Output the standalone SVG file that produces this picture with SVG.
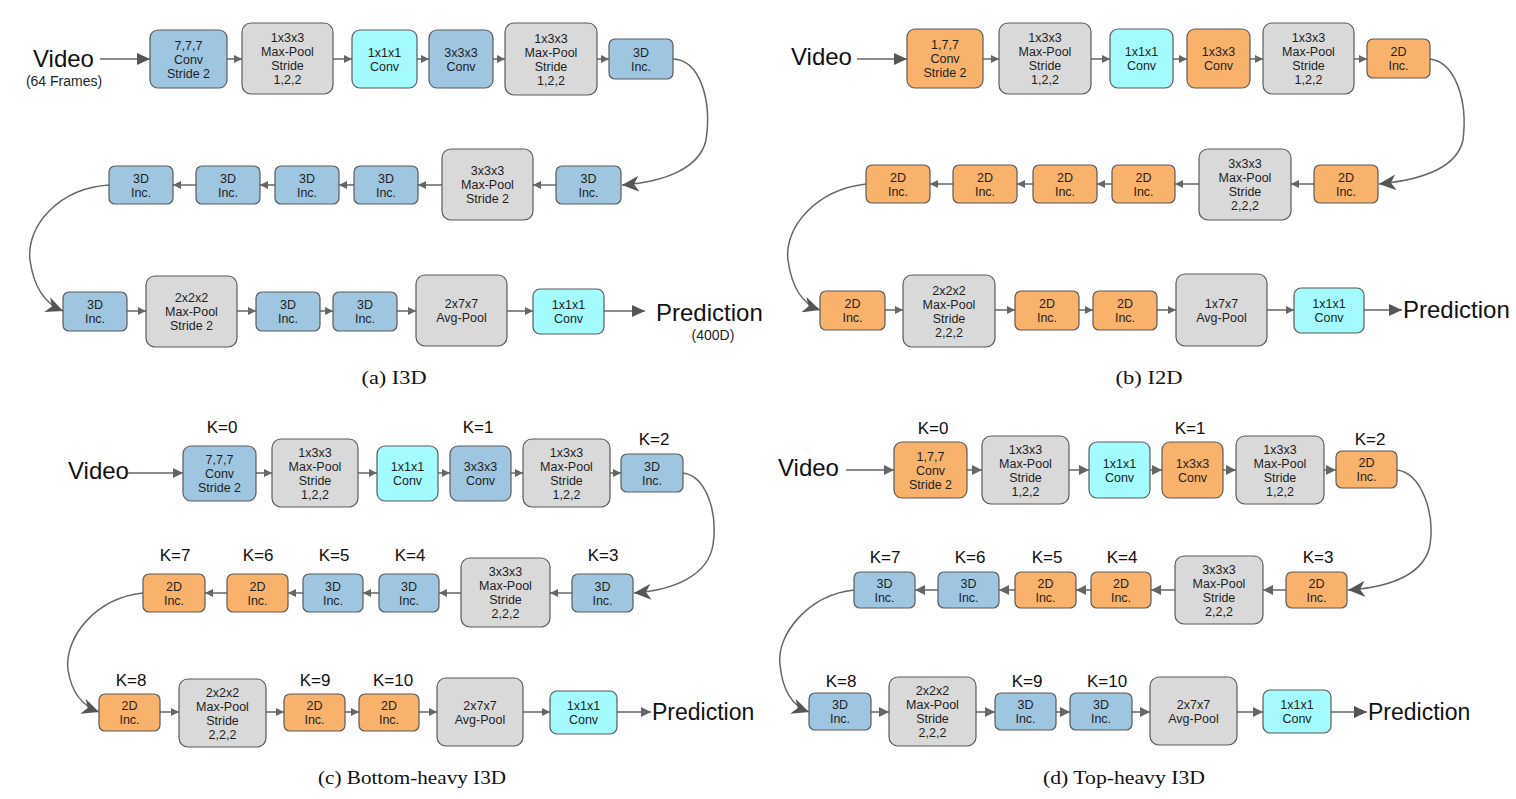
<svg xmlns="http://www.w3.org/2000/svg" width="1516" height="799" viewBox="0 0 1516 799">
<style>
rect{stroke:#5a5a5a;stroke-width:1.2}
.b{fill:#9fc6e1}.o{fill:#f8b26b}.g{fill:#d9d9d9}.c{fill:#a3fbfd}
text{font-family:"Liberation Sans",Arial,sans-serif;fill:#1e1e1e}
.n{font-size:12.5px;text-anchor:middle}
.k{font-size:17px;text-anchor:middle;fill:#111}
.v{font-size:24px;fill:#111}
.s{font-size:14px;text-anchor:middle}
.cap{font-family:"Liberation Serif","Times New Roman",serif;font-size:18px;text-anchor:middle;fill:#111}
.l{stroke:#666;stroke-width:1.5;fill:none}
</style>
<defs>
<marker id="sm" markerUnits="userSpaceOnUse" markerWidth="8" markerHeight="8" refX="8" refY="4" orient="auto"><path d="M0,0 L8,4 L0,8 z" fill="#666"/></marker>
<marker id="md" markerUnits="userSpaceOnUse" markerWidth="10" markerHeight="10" refX="10" refY="5" orient="auto"><path d="M0,0 L10,5 L0,10 z" fill="#666"/></marker>
<marker id="lg" markerUnits="userSpaceOnUse" markerWidth="13" markerHeight="12" refX="13" refY="6" orient="auto"><path d="M0,0 L13,6 L0,12 z" fill="#555"/></marker>
<marker id="cv" markerUnits="userSpaceOnUse" markerWidth="18" markerHeight="16" refX="17" refY="8" orient="auto"><path d="M0,0 L17,8 L0,16 L5,8 z" fill="#555"/></marker>
</defs>

<g id="connectors">
<!-- panel a -->
<path class="l" marker-end="url(#lg)" d="M100,59 H150"/>
<path class="l" marker-end="url(#sm)" d="M227,59 H242"/>
<path class="l" marker-end="url(#sm)" d="M333,59 H352"/>
<path class="l" marker-end="url(#sm)" d="M417,59 H429"/>
<path class="l" marker-end="url(#sm)" d="M493,59 H505"/>
<path class="l" marker-end="url(#sm)" d="M597,59 H609"/>
<path class="l" marker-end="url(#cv)" d="M673,59 C700,60 712,100 706,140 C700,168 665,182 622,185"/>
<path class="l" marker-end="url(#sm)" d="M556,185 H533"/>
<path class="l" marker-end="url(#sm)" d="M442,185 H418"/>
<path class="l" marker-end="url(#sm)" d="M354,185 H339"/>
<path class="l" marker-end="url(#sm)" d="M275,185 H260"/>
<path class="l" marker-end="url(#sm)" d="M196,185 H173"/>
<path class="l" marker-end="url(#cv)" d="M109,185 C60,188 26,225 30,260 C34,290 48,305 63,311"/>
<path class="l" marker-end="url(#sm)" d="M127,311 H146"/>
<path class="l" marker-end="url(#sm)" d="M237,311 H256"/>
<path class="l" marker-end="url(#sm)" d="M320,311 H333"/>
<path class="l" marker-end="url(#sm)" d="M397,311 H416"/>
<path class="l" marker-end="url(#sm)" d="M507,311 H533"/>
<path class="l" marker-end="url(#lg)" d="M604,311 H645"/>
<!-- panel b -->
<path class="l" marker-end="url(#lg)" d="M857,59 H907"/>
<path class="l" marker-end="url(#sm)" d="M983,59 H999"/>
<path class="l" marker-end="url(#sm)" d="M1091,59 H1110"/>
<path class="l" marker-end="url(#sm)" d="M1173,59 H1187"/>
<path class="l" marker-end="url(#sm)" d="M1250,59 H1263"/>
<path class="l" marker-end="url(#sm)" d="M1354,59 H1367"/>
<path class="l" marker-end="url(#cv)" d="M1430,59 C1455,62 1468,100 1463,140 C1457,168 1420,180 1379,184"/>
<path class="l" marker-end="url(#sm)" d="M1314,184 H1291"/>
<path class="l" marker-end="url(#sm)" d="M1199,184 H1175"/>
<path class="l" marker-end="url(#sm)" d="M1112,184 H1097"/>
<path class="l" marker-end="url(#sm)" d="M1033,184 H1017"/>
<path class="l" marker-end="url(#sm)" d="M953,184 H930"/>
<path class="l" marker-end="url(#cv)" d="M866,184 C815,190 784,228 788,260 C792,290 805,305 820,310"/>
<path class="l" marker-end="url(#sm)" d="M885,310 H903"/>
<path class="l" marker-end="url(#sm)" d="M995,310 H1015"/>
<path class="l" marker-end="url(#sm)" d="M1079,310 H1093"/>
<path class="l" marker-end="url(#sm)" d="M1157,310 H1176"/>
<path class="l" marker-end="url(#sm)" d="M1267,310 H1294"/>
<path class="l" marker-end="url(#lg)" d="M1364,310 H1402"/>
<!-- panel c -->
<path class="l" marker-end="url(#md)" d="M128,473 H183"/>
<path class="l" marker-end="url(#sm)" d="M256,473 H272"/>
<path class="l" marker-end="url(#sm)" d="M358,473 H377"/>
<path class="l" marker-end="url(#sm)" d="M438,473 H450"/>
<path class="l" marker-end="url(#sm)" d="M511,473 H523"/>
<path class="l" marker-end="url(#sm)" d="M610,473 H621"/>
<path class="l" marker-end="url(#cv)" d="M683,473 C706,476 718,512 713,545 C708,575 675,590 634,593"/>
<path class="l" marker-end="url(#sm)" d="M572,593 H550"/>
<path class="l" marker-end="url(#sm)" d="M461,593 H439"/>
<path class="l" marker-end="url(#sm)" d="M379,593 H363"/>
<path class="l" marker-end="url(#sm)" d="M303,593 H288"/>
<path class="l" marker-end="url(#sm)" d="M227,593 H205"/>
<path class="l" marker-end="url(#cv)" d="M143,593 C95,598 64,638 68,670 C72,695 85,707 99,712"/>
<path class="l" marker-end="url(#sm)" d="M160,712 H179"/>
<path class="l" marker-end="url(#sm)" d="M266,712 H284"/>
<path class="l" marker-end="url(#sm)" d="M345,712 H359"/>
<path class="l" marker-end="url(#sm)" d="M419,712 H437"/>
<path class="l" marker-end="url(#sm)" d="M523,712 H550"/>
<path class="l" marker-end="url(#md)" d="M617,712 H651"/>
<!-- panel d -->
<path class="l" marker-end="url(#md)" d="M846,470 H894"/>
<path class="l" marker-end="url(#md)" d="M967,470 H982"/>
<path class="l" marker-end="url(#md)" d="M1069,470 H1089"/>
<path class="l" marker-end="url(#md)" d="M1150,470 H1162"/>
<path class="l" marker-end="url(#md)" d="M1223,470 H1236"/>
<path class="l" marker-end="url(#md)" d="M1324,470 H1336"/>
<path class="l" marker-end="url(#cv)" d="M1397,470 C1421,473 1435,512 1430,545 C1425,572 1395,587 1348,590"/>
<path class="l" marker-end="url(#md)" d="M1286,590 H1263"/>
<path class="l" marker-end="url(#md)" d="M1175,590 H1151"/>
<path class="l" marker-end="url(#md)" d="M1091,590 H1076"/>
<path class="l" marker-end="url(#md)" d="M1015,590 H999"/>
<path class="l" marker-end="url(#md)" d="M938,590 H915"/>
<path class="l" marker-end="url(#cv)" d="M854,590 C808,595 776,635 780,665 C783,695 795,707 809,712"/>
<path class="l" marker-end="url(#md)" d="M871,712 H889"/>
<path class="l" marker-end="url(#md)" d="M976,712 H995"/>
<path class="l" marker-end="url(#md)" d="M1056,712 H1070"/>
<path class="l" marker-end="url(#md)" d="M1132,712 H1150"/>
<path class="l" marker-end="url(#md)" d="M1237,712 H1263"/>
<path class="l" marker-end="url(#lg)" d="M1331,712 H1367"/>
</g>

<!-- ===== Panel a ===== -->
<g id="a-video"><text class="v" x="33" y="67">Video</text><text class="s" x="64" y="86">(64 Frames)</text></g>
<g id="a1"><rect class="b" x="150" y="30" width="77" height="58" rx="8"/><text class="n" x="188.5" y="49.5">7,7,7</text><text class="n" x="188.5" y="63.5">Conv</text><text class="n" x="188.5" y="77.5">Stride 2</text></g>
<g id="a2"><rect class="g" x="242" y="23" width="91" height="71" rx="9"/><text class="n" x="287.5" y="42">1x3x3</text><text class="n" x="287.5" y="56">Max-Pool</text><text class="n" x="287.5" y="70">Stride</text><text class="n" x="287.5" y="84">1,2,2</text></g>
<g id="a3"><rect class="c" x="352" y="30" width="65" height="58" rx="8"/><text class="n" x="384.5" y="56.5">1x1x1</text><text class="n" x="384.5" y="70.5">Conv</text></g>
<g id="a4"><rect class="b" x="429" y="30" width="64" height="58" rx="8"/><text class="n" x="461" y="56.5">3x3x3</text><text class="n" x="461" y="70.5">Conv</text></g>
<g id="a5"><rect class="g" x="505" y="23" width="92" height="72" rx="9"/><text class="n" x="551" y="42.5">1x3x3</text><text class="n" x="551" y="56.5">Max-Pool</text><text class="n" x="551" y="70.5">Stride</text><text class="n" x="551" y="84.5">1,2,2</text></g>
<g id="a6"><rect class="b" x="609" y="39" width="64" height="40" rx="6"/><text class="n" x="641" y="56.5">3D</text><text class="n" x="641" y="70.5">Inc.</text></g>
<g id="a7"><rect class="b" x="556" y="166" width="65" height="38" rx="6"/><text class="n" x="588.5" y="182.5">3D</text><text class="n" x="588.5" y="196.5">Inc.</text></g>
<g id="a8"><rect class="g" x="442" y="149" width="91" height="71" rx="9"/><text class="n" x="487.5" y="175">3x3x3</text><text class="n" x="487.5" y="189">Max-Pool</text><text class="n" x="487.5" y="203">Stride 2</text></g>
<g id="a9"><rect class="b" x="354" y="166" width="64" height="38" rx="6"/><text class="n" x="386" y="182.5">3D</text><text class="n" x="386" y="196.5">Inc.</text></g>
<g id="a10"><rect class="b" x="275" y="166" width="64" height="38" rx="6"/><text class="n" x="307" y="182.5">3D</text><text class="n" x="307" y="196.5">Inc.</text></g>
<g id="a11"><rect class="b" x="196" y="166" width="64" height="38" rx="6"/><text class="n" x="228" y="182.5">3D</text><text class="n" x="228" y="196.5">Inc.</text></g>
<g id="a12"><rect class="b" x="109" y="166" width="64" height="38" rx="6"/><text class="n" x="141" y="182.5">3D</text><text class="n" x="141" y="196.5">Inc.</text></g>
<g id="a13"><rect class="b" x="63" y="292" width="64" height="39" rx="6"/><text class="n" x="95" y="309">3D</text><text class="n" x="95" y="323">Inc.</text></g>
<g id="a14"><rect class="g" x="146" y="276" width="91" height="71" rx="9"/><text class="n" x="191.5" y="302">2x2x2</text><text class="n" x="191.5" y="316">Max-Pool</text><text class="n" x="191.5" y="330">Stride 2</text></g>
<g id="a15"><rect class="b" x="256" y="292" width="64" height="39" rx="6"/><text class="n" x="288" y="309">3D</text><text class="n" x="288" y="323">Inc.</text></g>
<g id="a16"><rect class="b" x="333" y="292" width="64" height="39" rx="6"/><text class="n" x="365" y="309">3D</text><text class="n" x="365" y="323">Inc.</text></g>
<g id="a17"><rect class="g" x="416" y="275" width="91" height="71" rx="9"/><text class="n" x="461.5" y="308">2x7x7</text><text class="n" x="461.5" y="322">Avg-Pool</text></g>
<g id="a18"><rect class="c" x="533" y="289" width="71" height="45" rx="7"/><text class="n" x="568.5" y="309">1x1x1</text><text class="n" x="568.5" y="323">Conv</text></g>
<g id="a-pred"><text class="v" x="656" y="321">Prediction</text><text class="s" x="713" y="340">(400D)</text></g>
<text class="cap" x="394" y="384" textLength="65" lengthAdjust="spacingAndGlyphs">(a)  I3D</text>

<!-- ===== Panel b ===== -->
<g id="b-video"><text class="v" x="791" y="65">Video</text></g>
<g id="b1"><rect class="o" x="907" y="29" width="76" height="59" rx="8"/><text class="n" x="945" y="49">1,7,7</text><text class="n" x="945" y="63">Conv</text><text class="n" x="945" y="77">Stride 2</text></g>
<g id="b2"><rect class="g" x="999" y="23" width="92" height="71" rx="9"/><text class="n" x="1045" y="42">1x3x3</text><text class="n" x="1045" y="56">Max-Pool</text><text class="n" x="1045" y="70">Stride</text><text class="n" x="1045" y="84">1,2,2</text></g>
<g id="b3"><rect class="c" x="1110" y="29" width="63" height="59" rx="8"/><text class="n" x="1141.5" y="56">1x1x1</text><text class="n" x="1141.5" y="70">Conv</text></g>
<g id="b4"><rect class="o" x="1187" y="29" width="63" height="59" rx="8"/><text class="n" x="1218.5" y="56">1x3x3</text><text class="n" x="1218.5" y="70">Conv</text></g>
<g id="b5"><rect class="g" x="1263" y="23" width="91" height="71" rx="9"/><text class="n" x="1308.5" y="42">1x3x3</text><text class="n" x="1308.5" y="56">Max-Pool</text><text class="n" x="1308.5" y="70">Stride</text><text class="n" x="1308.5" y="84">1,2,2</text></g>
<g id="b6"><rect class="o" x="1367" y="39" width="63" height="39" rx="6"/><text class="n" x="1398.5" y="56">2D</text><text class="n" x="1398.5" y="70">Inc.</text></g>
<g id="b7"><rect class="o" x="1314" y="165" width="64" height="38" rx="6"/><text class="n" x="1346" y="181.5">2D</text><text class="n" x="1346" y="195.5">Inc.</text></g>
<g id="b8"><rect class="g" x="1199" y="149" width="92" height="71" rx="9"/><text class="n" x="1245" y="168">3x3x3</text><text class="n" x="1245" y="182">Max-Pool</text><text class="n" x="1245" y="196">Stride</text><text class="n" x="1245" y="210">2,2,2</text></g>
<g id="b9"><rect class="o" x="1112" y="165" width="63" height="38" rx="6"/><text class="n" x="1143.5" y="181.5">2D</text><text class="n" x="1143.5" y="195.5">Inc.</text></g>
<g id="b10"><rect class="o" x="1033" y="165" width="64" height="38" rx="6"/><text class="n" x="1065" y="181.5">2D</text><text class="n" x="1065" y="195.5">Inc.</text></g>
<g id="b11"><rect class="o" x="953" y="165" width="64" height="38" rx="6"/><text class="n" x="985" y="181.5">2D</text><text class="n" x="985" y="195.5">Inc.</text></g>
<g id="b12"><rect class="o" x="866" y="165" width="64" height="38" rx="6"/><text class="n" x="898" y="181.5">2D</text><text class="n" x="898" y="195.5">Inc.</text></g>
<g id="b13"><rect class="o" x="820" y="291" width="65" height="39" rx="6"/><text class="n" x="852.5" y="308">2D</text><text class="n" x="852.5" y="322">Inc.</text></g>
<g id="b14"><rect class="g" x="903" y="275" width="92" height="72" rx="9"/><text class="n" x="949" y="294.5">2x2x2</text><text class="n" x="949" y="308.5">Max-Pool</text><text class="n" x="949" y="322.5">Stride</text><text class="n" x="949" y="336.5">2,2,2</text></g>
<g id="b15"><rect class="o" x="1015" y="291" width="64" height="39" rx="6"/><text class="n" x="1047" y="308">2D</text><text class="n" x="1047" y="322">Inc.</text></g>
<g id="b16"><rect class="o" x="1093" y="291" width="64" height="39" rx="6"/><text class="n" x="1125" y="308">2D</text><text class="n" x="1125" y="322">Inc.</text></g>
<g id="b17"><rect class="g" x="1176" y="274" width="91" height="72" rx="9"/><text class="n" x="1221.5" y="307.5">1x7x7</text><text class="n" x="1221.5" y="321.5">Avg-Pool</text></g>
<g id="b18"><rect class="c" x="1294" y="288" width="70" height="45" rx="7"/><text class="n" x="1329" y="308">1x1x1</text><text class="n" x="1329" y="322">Conv</text></g>
<g id="b-pred"><text class="v" x="1403" y="318">Prediction</text></g>
<text class="cap" x="1149" y="384" textLength="67" lengthAdjust="spacingAndGlyphs">(b)  I2D</text>

<!-- ===== Panel c ===== -->
<g id="c-video"><text class="v" x="68" y="479">Video</text></g>
<g id="c1"><text class="k" x="222" y="433">K=0</text><rect class="b" x="183" y="446" width="73" height="55" rx="8"/><text class="n" x="219.5" y="464">7,7,7</text><text class="n" x="219.5" y="478">Conv</text><text class="n" x="219.5" y="492">Stride 2</text></g>
<g id="c2"><rect class="g" x="272" y="439" width="86" height="68" rx="9"/><text class="n" x="315" y="456.5">1x3x3</text><text class="n" x="315" y="470.5">Max-Pool</text><text class="n" x="315" y="484.5">Stride</text><text class="n" x="315" y="498.5">1,2,2</text></g>
<g id="c3"><rect class="c" x="377" y="446" width="61" height="55" rx="8"/><text class="n" x="407.5" y="471">1x1x1</text><text class="n" x="407.5" y="485">Conv</text></g>
<g id="c4"><text class="k" x="478" y="433">K=1</text><rect class="b" x="450" y="446" width="61" height="55" rx="8"/><text class="n" x="480.5" y="471">3x3x3</text><text class="n" x="480.5" y="485">Conv</text></g>
<g id="c5"><rect class="g" x="523" y="439" width="87" height="68" rx="9"/><text class="n" x="566.5" y="456.5">1x3x3</text><text class="n" x="566.5" y="470.5">Max-Pool</text><text class="n" x="566.5" y="484.5">Stride</text><text class="n" x="566.5" y="498.5">1,2,2</text></g>
<g id="c6"><text class="k" x="654" y="445">K=2</text><rect class="b" x="621" y="454" width="62" height="38" rx="6"/><text class="n" x="652" y="470.5">3D</text><text class="n" x="652" y="484.5">Inc.</text></g>
<g id="c7"><text class="k" x="603" y="561">K=3</text><rect class="b" x="572" y="574" width="61" height="38" rx="6"/><text class="n" x="602.5" y="590.5">3D</text><text class="n" x="602.5" y="604.5">Inc.</text></g>
<g id="c8"><rect class="g" x="461" y="558" width="89" height="69" rx="9"/><text class="n" x="505.5" y="576">3x3x3</text><text class="n" x="505.5" y="590">Max-Pool</text><text class="n" x="505.5" y="604">Stride</text><text class="n" x="505.5" y="618">2,2,2</text></g>
<g id="c9"><text class="k" x="410" y="561">K=4</text><rect class="b" x="379" y="574" width="60" height="38" rx="6"/><text class="n" x="409" y="590.5">3D</text><text class="n" x="409" y="604.5">Inc.</text></g>
<g id="c10"><text class="k" x="334" y="561">K=5</text><rect class="b" x="303" y="574" width="60" height="38" rx="6"/><text class="n" x="333" y="590.5">3D</text><text class="n" x="333" y="604.5">Inc.</text></g>
<g id="c11"><text class="k" x="258" y="561">K=6</text><rect class="o" x="227" y="574" width="61" height="38" rx="6"/><text class="n" x="257.5" y="590.5">2D</text><text class="n" x="257.5" y="604.5">Inc.</text></g>
<g id="c12"><text class="k" x="175" y="561">K=7</text><rect class="o" x="143" y="574" width="62" height="38" rx="6"/><text class="n" x="174" y="590.5">2D</text><text class="n" x="174" y="604.5">Inc.</text></g>
<g id="c13"><text class="k" x="131" y="686">K=8</text><rect class="o" x="99" y="694" width="61" height="37" rx="6"/><text class="n" x="129.5" y="710">2D</text><text class="n" x="129.5" y="724">Inc.</text></g>
<g id="c14"><rect class="g" x="179" y="679" width="87" height="68" rx="9"/><text class="n" x="222.5" y="696.5">2x2x2</text><text class="n" x="222.5" y="710.5">Max-Pool</text><text class="n" x="222.5" y="724.5">Stride</text><text class="n" x="222.5" y="738.5">2,2,2</text></g>
<g id="c15"><text class="k" x="315" y="686">K=9</text><rect class="o" x="284" y="694" width="61" height="37" rx="6"/><text class="n" x="314.5" y="710">2D</text><text class="n" x="314.5" y="724">Inc.</text></g>
<g id="c16"><text class="k" x="393" y="686">K=10</text><rect class="o" x="359" y="694" width="60" height="37" rx="6"/><text class="n" x="389" y="710">2D</text><text class="n" x="389" y="724">Inc.</text></g>
<g id="c17"><rect class="g" x="437" y="678" width="86" height="68" rx="9"/><text class="n" x="480" y="709.5">2x7x7</text><text class="n" x="480" y="723.5">Avg-Pool</text></g>
<g id="c18"><rect class="c" x="550" y="691" width="67" height="43" rx="7"/><text class="n" x="583.5" y="710">1x1x1</text><text class="n" x="583.5" y="724">Conv</text></g>
<g id="c-pred"><text class="v" x="652" y="720" style="font-size:23px">Prediction</text></g>
<text class="cap" x="412" y="784" textLength="188" lengthAdjust="spacingAndGlyphs">(c)  Bottom-heavy I3D</text>

<!-- ===== Panel d ===== -->
<g id="d-video"><text class="v" x="778" y="476">Video</text></g>
<g id="d1"><text class="k" x="933" y="434">K=0</text><rect class="o" x="894" y="442" width="73" height="56" rx="8"/><text class="n" x="930.5" y="460.5">1,7,7</text><text class="n" x="930.5" y="474.5">Conv</text><text class="n" x="930.5" y="488.5">Stride 2</text></g>
<g id="d2"><rect class="g" x="982" y="436" width="87" height="68" rx="9"/><text class="n" x="1025.5" y="453.5">1x3x3</text><text class="n" x="1025.5" y="467.5">Max-Pool</text><text class="n" x="1025.5" y="481.5">Stride</text><text class="n" x="1025.5" y="495.5">1,2,2</text></g>
<g id="d3"><rect class="c" x="1089" y="442" width="61" height="56" rx="8"/><text class="n" x="1119.5" y="467.5">1x1x1</text><text class="n" x="1119.5" y="481.5">Conv</text></g>
<g id="d4"><text class="k" x="1190" y="434">K=1</text><rect class="o" x="1162" y="442" width="61" height="56" rx="8"/><text class="n" x="1192.5" y="467.5">1x3x3</text><text class="n" x="1192.5" y="481.5">Conv</text></g>
<g id="d5"><rect class="g" x="1236" y="436" width="88" height="68" rx="9"/><text class="n" x="1280" y="453.5">1x3x3</text><text class="n" x="1280" y="467.5">Max-Pool</text><text class="n" x="1280" y="481.5">Stride</text><text class="n" x="1280" y="495.5">1,2,2</text></g>
<g id="d6"><text class="k" x="1370" y="445">K=2</text><rect class="o" x="1336" y="451" width="61" height="37" rx="6"/><text class="n" x="1366.5" y="467">2D</text><text class="n" x="1366.5" y="481">Inc.</text></g>
<g id="d7"><text class="k" x="1318" y="563">K=3</text><rect class="o" x="1286" y="572" width="61" height="36" rx="6"/><text class="n" x="1316.5" y="587.5">2D</text><text class="n" x="1316.5" y="601.5">Inc.</text></g>
<g id="d8"><rect class="g" x="1175" y="556" width="88" height="68" rx="9"/><text class="n" x="1219" y="573.5">3x3x3</text><text class="n" x="1219" y="587.5">Max-Pool</text><text class="n" x="1219" y="601.5">Stride</text><text class="n" x="1219" y="615.5">2,2,2</text></g>
<g id="d9"><text class="k" x="1122" y="563">K=4</text><rect class="o" x="1091" y="572" width="60" height="36" rx="6"/><text class="n" x="1121" y="587.5">2D</text><text class="n" x="1121" y="601.5">Inc.</text></g>
<g id="d10"><text class="k" x="1047" y="563">K=5</text><rect class="o" x="1015" y="572" width="61" height="36" rx="6"/><text class="n" x="1045.5" y="587.5">2D</text><text class="n" x="1045.5" y="601.5">Inc.</text></g>
<g id="d11"><text class="k" x="970" y="563">K=6</text><rect class="b" x="938" y="572" width="61" height="36" rx="6"/><text class="n" x="968.5" y="587.5">3D</text><text class="n" x="968.5" y="601.5">Inc.</text></g>
<g id="d12"><text class="k" x="885" y="563">K=7</text><rect class="b" x="854" y="572" width="61" height="36" rx="6"/><text class="n" x="884.5" y="587.5">3D</text><text class="n" x="884.5" y="601.5">Inc.</text></g>
<g id="d13"><text class="k" x="841" y="687">K=8</text><rect class="b" x="809" y="693" width="62" height="37" rx="6"/><text class="n" x="840" y="709">3D</text><text class="n" x="840" y="723">Inc.</text></g>
<g id="d14"><rect class="g" x="889" y="677" width="87" height="69" rx="9"/><text class="n" x="932.5" y="695">2x2x2</text><text class="n" x="932.5" y="709">Max-Pool</text><text class="n" x="932.5" y="723">Stride</text><text class="n" x="932.5" y="737">2,2,2</text></g>
<g id="d15"><text class="k" x="1027" y="687">K=9</text><rect class="b" x="995" y="693" width="61" height="37" rx="6"/><text class="n" x="1025.5" y="709">3D</text><text class="n" x="1025.5" y="723">Inc.</text></g>
<g id="d16"><text class="k" x="1107" y="687">K=10</text><rect class="b" x="1070" y="693" width="62" height="37" rx="6"/><text class="n" x="1101" y="709">3D</text><text class="n" x="1101" y="723">Inc.</text></g>
<g id="d17"><rect class="g" x="1150" y="677" width="87" height="68" rx="9"/><text class="n" x="1193.5" y="708.5">2x7x7</text><text class="n" x="1193.5" y="722.5">Avg-Pool</text></g>
<g id="d18"><rect class="c" x="1263" y="690" width="68" height="43" rx="7"/><text class="n" x="1297" y="709">1x1x1</text><text class="n" x="1297" y="723">Conv</text></g>
<g id="d-pred"><text class="v" x="1368" y="720" style="font-size:23px">Prediction</text></g>
<text class="cap" x="1124" y="784" textLength="162" lengthAdjust="spacingAndGlyphs">(d)  Top-heavy I3D</text>
</svg>
